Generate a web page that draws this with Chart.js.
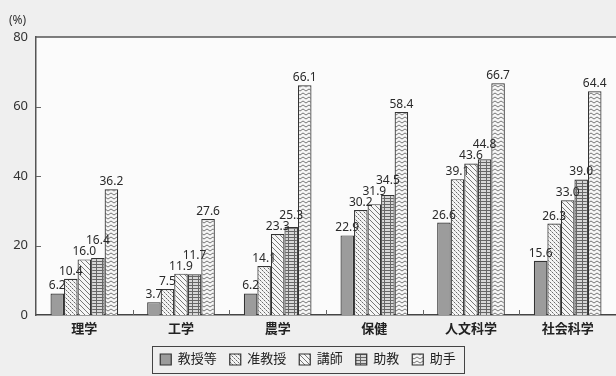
<!DOCTYPE html>
<html lang="ja">
<head>
<meta charset="utf-8">
<title>分野別 女性比率</title>
<script src="https://cdn.jsdelivr.net/npm/chart.js@4/dist/chart.umd.min.js"></script>
<style>
  html, body { margin: 0; padding: 0; background: #efefef; }
  #wrap { width: 616px; height: 376px; position: relative; }
</style>
</head>
<body>
<div id="wrap"><canvas id="c"></canvas></div>
<script>
// Datos
const categorias = ['理学', '工学', '農学', '保健', '人文科学', '社会科学'];
const series = ['教授等', '准教授', '講師', '助教', '助手'];
const kyoju = [6.2, 3.7, 6.2, 22.9, 26.6, 15.6];
const junKyoju = [10.4, 7.5, 14.1, 30.2, 39.1, 26.3];
const koshi = [16.0, 11.9, 23.3, 31.9, 43.6, 33.0];
const jokyo = [16.4, 11.7, 25.3, 34.5, 44.8, 39.0];
const joshu = [36.2, 27.6, 66.1, 58.4, 66.7, 64.4];
const yTicks = [0, 20, 40, 60, 80];

const FONT = "'Noto Sans', 'Noto Sans CJK JP', sans-serif";
const TINTA = '#333';

// ── Tramas de relleno ──────────────────────────────────────────────
function trama(tipo) {
  const c = document.createElement('canvas');
  const x = c.getContext('2d');
  if (tipo === 'gris') return '#9c9c9c';
  if (tipo === 'puntos') {
    c.width = 4; c.height = 4;
    x.fillStyle = '#f4f4f4'; x.fillRect(0, 0, 4, 4);
    x.fillStyle = '#6a6a6a';
    x.fillRect(0, 0, 1, 1); x.fillRect(2, 2, 1, 1);
    x.fillStyle = '#b0b0b0';
    x.fillRect(1, 1, 1, 1); x.fillRect(3, 3, 1, 1);
  } else if (tipo === 'diag') {
    c.width = 5; c.height = 5;
    x.fillStyle = '#f6f6f6'; x.fillRect(0, 0, 5, 5);
    x.strokeStyle = '#777'; x.lineWidth = 1;
    x.beginPath(); x.moveTo(-1, -1); x.lineTo(6, 6); x.stroke();
    x.beginPath(); x.moveTo(-1, 4); x.lineTo(1, 6); x.stroke();
    x.beginPath(); x.moveTo(4, -1); x.lineTo(6, 1); x.stroke();
  } else if (tipo === 'rejilla') {
    c.width = 6; c.height = 3;
    x.fillStyle = '#d8d8d8'; x.fillRect(0, 0, 6, 3);
    x.fillStyle = '#666';
    x.fillRect(0, 0, 6, 1);
    x.fillRect(0, 0, 1, 3);
  } else if (tipo === 'onda') {
    c.width = 6; c.height = 4;
    x.fillStyle = '#f6f6f6'; x.fillRect(0, 0, 6, 4);
    x.strokeStyle = '#777'; x.lineWidth = 1;
    x.beginPath(); x.moveTo(0, 3); x.lineTo(3, 1); x.lineTo(6, 3); x.stroke();
  }
  return x.createPattern(c, 'repeat');
}
const rellenos = [trama('gris'), trama('puntos'), trama('diag'), trama('rejilla'), trama('onda')];
const valores = [kyoju, junKyoju, koshi, jokyo, joshu];

// ── Plugin: fondo, marco, ticks interiores, etiquetas, caja de leyenda ──
const decor = {
  id: 'decor',
  beforeDraw(chart) {
    const { ctx, chartArea: a } = chart;
    ctx.save();
    ctx.fillStyle = '#efefef';
    ctx.fillRect(0, 0, chart.width, chart.height);
    ctx.fillStyle = '#fbfbfb';
    ctx.fillRect(a.left, a.top, a.right - a.left, a.bottom - a.top);
    ctx.restore();
  },
  afterDatasetsDraw(chart) {
    const ctx = chart.ctx;
    ctx.save();
    ctx.font = '12px ' + FONT;
    ctx.fillStyle = '#2a2a2a';
    ctx.textAlign = 'center';
    ctx.textBaseline = 'alphabetic';
    categorias.forEach((_, i) => {
      let prevY = Infinity;
      chart.data.datasets.forEach((ds, d) => {
        const el = chart.getDatasetMeta(d).data[i];
        let y = el.y - 4;
        if (y > prevY - 11) y = prevY - 11; // evitar que se pisen
        ctx.fillText(ds.data[i].toFixed(1), el.x, y);
        prevY = y;
      });
    });
    ctx.restore();
  },
  afterDraw(chart) {
    const { ctx, chartArea: a } = chart;
    const xs = chart.scales.x, ys = chart.scales.y;
    ctx.save();
    ctx.strokeStyle = '#555';
    ctx.lineWidth = 1.5;
    ctx.beginPath(); ctx.moveTo(a.left, a.top); ctx.lineTo(a.right, a.top); ctx.stroke();

    // ticks hacia adentro
    ctx.lineWidth = 1;
    ctx.strokeStyle = '#666';
    for (let i = 0; i < categorias.length - 1; i++) {
      const x = Math.round((xs.getPixelForValue(i) + xs.getPixelForValue(i + 1)) / 2) + 0.5;
      ctx.beginPath(); ctx.moveTo(x, a.bottom); ctx.lineTo(x, a.bottom - 5); ctx.stroke();
    }
    yTicks.slice(1, -1).forEach(v => {
      const y = Math.round(ys.getPixelForValue(v)) + 0.5;
      ctx.beginPath(); ctx.moveTo(a.left, y); ctx.lineTo(a.left + 5, y); ctx.stroke();
    });

    // unidad
    ctx.fillStyle = '#333';
    ctx.font = '12px ' + FONT;
    ctx.textAlign = 'left';
    ctx.textBaseline = 'middle';
    ctx.fillText('(%)', 9, a.top - 16);

    // caja de la leyenda
    const b = chart.legend.legendHitBoxes;
    if (b && b.length) {
      const x0 = Math.min(...b.map(h => h.left)) - 8;
      const x1 = Math.max(...b.map(h => h.left + h.width)) + 8;
      const y0 = Math.min(...b.map(h => h.top)) - 7;
      const y1 = Math.max(...b.map(h => h.top + h.height)) + 7;
      ctx.strokeStyle = '#444';
      ctx.lineWidth = 1;
      ctx.strokeRect(Math.round(x0) + 0.5, Math.round(y0) + 0.5, Math.round(x1 - x0), Math.round(y1 - y0));
    }
    ctx.restore();
  }
};

new Chart(document.getElementById('c'), {
  type: 'bar',
  data: {
    labels: categorias,
    datasets: series.map((s, k) => ({
      label: s,
      data: valores[k],
      backgroundColor: rellenos[k],
      borderColor: TINTA,
      borderWidth: 1.2,
      categoryPercentage: 0.7,
      barPercentage: 1.0,
    })),
  },
  options: {
    responsive: true, maintainAspectRatio: false, animation: false,
    layout: { padding: { top: 37, right: 0, left: 0, bottom: 0 } },
    plugins: {
      tooltip: { enabled: false },
      legend: {
        position: 'bottom',
        maxHeight: 38,
        labels: { font: { family: FONT, size: 13 }, color: '#222', boxWidth: 11, boxHeight: 11, padding: 13 },
      },
    },
    scales: {
      x: {
        afterFit: s => { s.height = 25; },
        grid: { display: false, drawTicks: false },
        border: { color: '#444', width: 1.5 },
        ticks: { font: { family: FONT, size: 13, weight: 'bold' }, color: '#222', padding: 6 },
      },
      y: {
        min: 0, max: 80,
        afterFit: s => { s.width = 36; },
        afterBuildTicks: s => { s.ticks = yTicks.map(v => ({ value: v })); },
        grid: { display: false, drawTicks: false },
        border: { color: '#555', width: 1.5 },
        ticks: { font: { family: FONT, size: 13 }, color: '#333', padding: 8 },
      },
    },
  },
  plugins: [decor],
});
</script>
</body>
</html>
